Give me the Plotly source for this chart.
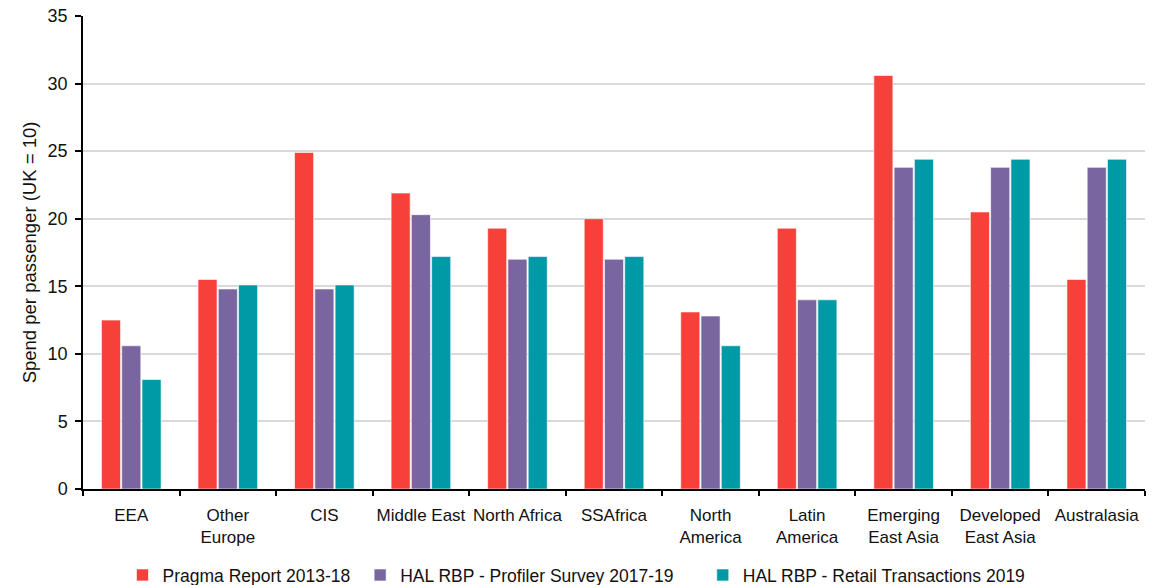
import plotly.graph_objects as go

regions = ["EEA", "Other<br>Europe", "CIS", "Middle East", "North Africa", "SSAfrica",
           "North<br>America", "Latin<br>America", "Emerging<br>East Asia",
           "Developed<br>East Asia", "Australasia"]

pragma = [12.5, 15.5, 24.9, 21.9, 19.3, 20.0, 13.1, 19.3, 30.6, 20.5, 15.5]
profiler = [10.6, 14.8, 14.8, 20.3, 17.0, 17.0, 12.8, 14.0, 23.8, 23.8, 23.8]
retail = [8.1, 15.1, 15.1, 17.2, 17.2, 17.2, 10.6, 14.0, 24.4, 24.4, 24.4]

NB = "\u00a0"
series = [
    ("Pragma Report 2013-18" + NB * 1, pragma, "#F8403A"),
    ("HAL RBP - Profiler Survey 2017-19" + NB * 5, profiler, "#79659F"),
    ("HAL RBP - Retail Transactions 2019", retail, "#009AA6"),
]

fig = go.Figure()
for name, vals, col in series:
    fig.add_trace(go.Bar(
        x=regions, y=vals, name=name,
        marker=dict(color=col, line=dict(color="rgba(255,255,255,0.6)", width=1)),
    ))

font_family = "Liberation Sans, Arial, sans-serif"

fig.update_layout(
    width=1153, height=585,
    margin=dict(l=83, r=8, t=16, b=96, autoexpand=False),
    paper_bgcolor="white", plot_bgcolor="white",
    barmode="group", bargap=0.37, bargroupgap=0.06,
    font=dict(family=font_family, size=16, color="#111111"),
    legend=dict(orientation="h", x=0.5, xanchor="center", xref="container",
                y=-0.182, yanchor="middle", yref="paper",
                font=dict(size=17.5), traceorder="normal"),
    xaxis=dict(
        automargin=False, tickangle=0,
        showline=True, linecolor="black", linewidth=1.5,
        ticks="outside", tickson="boundaries", ticklen=5, tickcolor="black",
        tickwidth=1.5, showgrid=False, tickfont=dict(size=17),
        ticklabelstandoff=10,
    ),
    yaxis=dict(
        automargin=False,
        range=[0, 35], dtick=5, showline=True, linecolor="black", linewidth=1.5,
        ticks="outside", ticklen=6, tickcolor="black", tickwidth=1.5,
        showgrid=True, gridcolor="#D9D9D9", gridwidth=1.5, zeroline=False,
        tickfont=dict(size=18), ticklabelstandoff=4,
        title=dict(text="Spend per passenger (UK = 10)", font=dict(size=18.5), standoff=6),
    ),
)

fig.write_html("out.html")
